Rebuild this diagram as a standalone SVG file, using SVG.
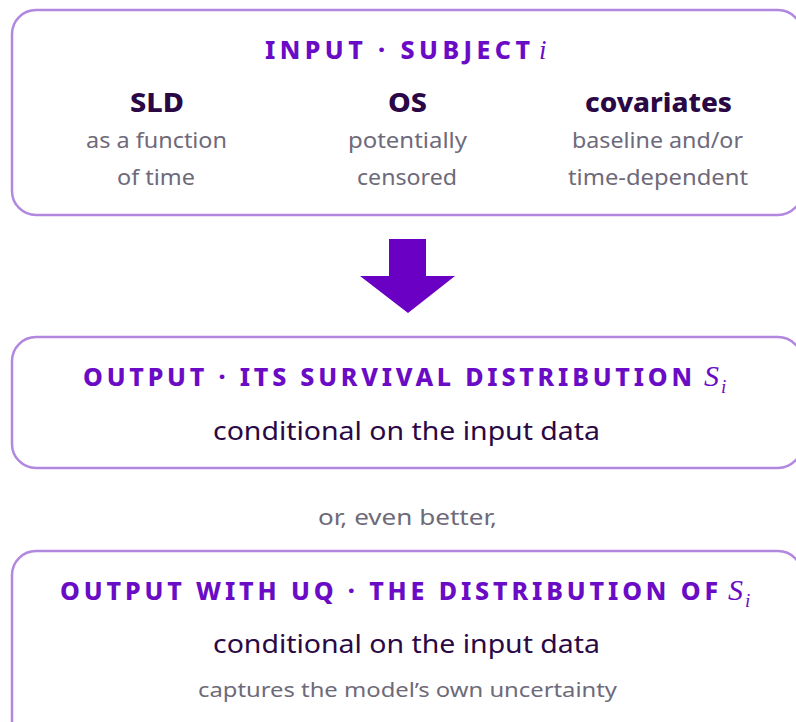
<svg xmlns="http://www.w3.org/2000/svg" width="796" height="722" viewBox="0 0 796 722">
<style>
.box{fill:#fff;stroke:#b287e0;stroke-width:2.5}
.ttl{font-family:"Noto Sans","Liberation Sans",sans-serif;font-weight:800;font-size:25px;fill:#6a0cc6}
.math{font-family:"Liberation Serif","DejaVu Serif",serif;font-style:italic;fill:#6a0cc6}
.hd{font-family:"Noto Sans","Liberation Sans",sans-serif;font-weight:800;font-size:26px;fill:#2a0845}
.sub{font-family:"Noto Sans","Liberation Sans",sans-serif;font-size:21px;fill:#6e6a7a}
.main{font-family:"Noto Sans","Liberation Sans",sans-serif;font-size:26px;fill:#2a0845}
.note{font-family:"Noto Sans","Liberation Sans",sans-serif;font-size:19px;fill:#6e6a7a}
</style>
<rect width="796" height="722" fill="#fff"/>
<g id="input">
<rect class="box" x="12" y="10" width="790" height="205" rx="24"/>
<text class="ttl" x="265" y="59" textLength="265" lengthAdjust="spacing">INPUT · SUBJECT</text>
<text class="math" x="539" y="59" font-size="27">i</text>
<text class="hd" x="130" y="112" textLength="54" lengthAdjust="spacingAndGlyphs">SLD</text>
<text class="sub" x="86" y="148" textLength="141" lengthAdjust="spacingAndGlyphs">as a function</text>
<text class="sub" x="117" y="185" textLength="78" lengthAdjust="spacingAndGlyphs">of time</text>
<text class="hd" x="388" y="112" textLength="39" lengthAdjust="spacingAndGlyphs">OS</text>
<text class="sub" x="348" y="148" textLength="119" lengthAdjust="spacingAndGlyphs">potentially</text>
<text class="sub" x="357" y="185" textLength="100" lengthAdjust="spacingAndGlyphs">censored</text>
<text class="hd" x="585" y="112" textLength="147" lengthAdjust="spacingAndGlyphs">covariates</text>
<text class="sub" x="572" y="148" textLength="171" lengthAdjust="spacingAndGlyphs">baseline and/or</text>
<text class="sub" x="568" y="185" textLength="180" lengthAdjust="spacingAndGlyphs">time-dependent</text>
</g>
<g id="connectors">
<polygon points="389,239 426,239 426,276 455,276 408,313 360,276 389,276" fill="#6a00c4"/>
</g>
<g id="output">
<rect class="box" x="12" y="337" width="790" height="131" rx="24"/>
<text class="ttl" x="83" y="386" textLength="609" lengthAdjust="spacing">OUTPUT · ITS SURVIVAL DISTRIBUTION</text>
<text class="math" x="704" y="386" font-size="30">S</text>
<text class="math" x="721" y="393" font-size="19">i</text>
<text class="main" x="213" y="440" textLength="387" lengthAdjust="spacingAndGlyphs">conditional on the input data</text>
</g>
<text class="sub" x="318" y="525" textLength="179" lengthAdjust="spacingAndGlyphs">or, even better,</text>
<g id="output-uq">
<rect class="box" x="12" y="551" width="790" height="200" rx="24"/>
<text class="ttl" x="60" y="600" textLength="658" lengthAdjust="spacing">OUTPUT WITH UQ · THE DISTRIBUTION OF</text>
<text class="math" x="728" y="600" font-size="30">S</text>
<text class="math" x="745" y="607" font-size="19">i</text>
<text class="main" x="213" y="653" textLength="387" lengthAdjust="spacingAndGlyphs">conditional on the input data</text>
<text class="note" x="198" y="697" textLength="419" lengthAdjust="spacingAndGlyphs">captures the model’s own uncertainty</text>
</g>
</svg>
